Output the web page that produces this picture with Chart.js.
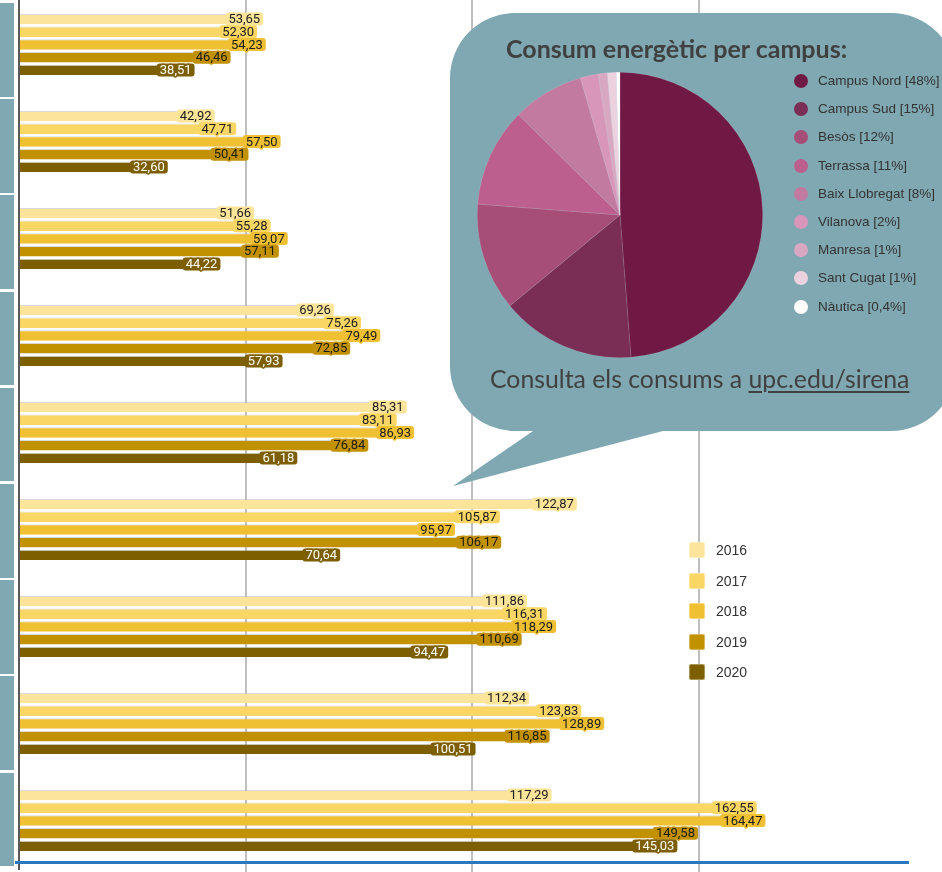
<!DOCTYPE html>
<html>
<head>
<meta charset="utf-8">
<script src="https://cdn.jsdelivr.net/npm/chart.js@4.4.1/dist/chart.umd.min.js"></script>
<style>
html, body { margin: 0; padding: 0; width: 942px; height: 872px; overflow: hidden; background: #fff; }
#page { position: relative; width: 942px; height: 872px; }
#barBox { position: absolute; left: 0; top: -4px; width: 942px; height: 903px; }
.cell { position: absolute; left: 0; width: 14px; background: #7fa8b2; }
#baseLine { position: absolute; left: 15px; top: 861px; width: 894px; height: 2.5px; background: #2a78c0; }
#legend { position: absolute; left: 689px; top: 542px; font: 14px "Liberation Sans", Arial, sans-serif; color: #333; }
#legend div { height: 30.5px; display: flex; align-items: flex-start; }
#legend span.sw { width: 16px; height: 16px; border-radius: 2px; margin-right: 11px; box-sizing: border-box; border: 1px solid rgba(255,255,255,0.35); }
#legend span.tx { line-height: 16px; }
#bubble { position: absolute; left: 0; top: 0; }
#title { position: absolute; left: 506px; top: 33px; font: bold 25px Lato, sans-serif; color: #404040; white-space: nowrap; }
#pieBox { position: absolute; left: 477px; top: 72px; width: 286px; height: 286px; }
#pieLegend { position: absolute; left: 794px; top: 72px; font: 13.5px "Liberation Sans", Arial, sans-serif; color: #333; }
#pieLegend div { height: 28.2px; display: flex; align-items: flex-start; white-space: nowrap; }
#pieLegend span.dot { width: 14px; height: 14px; border-radius: 50%; margin-right: 10px; margin-top: 2px; }
#pieLegend span.tx { line-height: 18px; }
#footer { position: absolute; left: 490px; top: 364px; font: 24.8px Lato, sans-serif; color: #404040; white-space: nowrap; }
#footer u { text-decoration-thickness: 2px; text-underline-offset: 3px; }
</style>
</head>
<body>
<div id="page">
  <div id="barBox"><canvas id="barChart"></canvas></div>
  <div id="baseLine"></div>
  <div id="legend"></div>
  <svg id="bubble" width="942" height="872">
    <path d="M 515 13 H 891 A 65 65 0 0 1 956 78 V 366 A 65 65 0 0 1 891 431 H 663 L 453 486 L 533 431 H 515 A 65 65 0 0 1 450 366 V 78 A 65 65 0 0 1 515 13 Z" fill="#7fa8b2"/>
  </svg>
  <div id="title">Consum energètic per campus:</div>
  <div id="pieBox"><canvas id="pieChart"></canvas></div>
  <div id="pieLegend"></div>
  <div id="footer">Consulta els consums a <u>upc.edu/sirena</u></div>
</div>
<script>
// groups (their names are cut off in the picture)
var categories = ['1', '2', '3', '4', '5', '6', '7', '8', '9'];
var years = ['2016', '2017', '2018', '2019', '2020'];

var v2016 = [53.65, 42.92, 51.66, 69.26, 85.31, 122.87, 111.86, 112.34, 117.29];
var v2017 = [52.30, 47.71, 55.28, 75.26, 83.11, 105.87, 116.31, 123.83, 162.55];
var v2018 = [54.23, 57.50, 59.07, 79.49, 86.93, 95.97, 118.29, 128.89, 164.47];
var v2019 = [46.46, 50.41, 57.11, 72.85, 76.84, 106.17, 110.69, 116.85, 149.58];
var v2020 = [38.51, 32.60, 44.22, 57.93, 61.18, 70.64, 94.47, 100.51, 145.03];

var yearColors = ['#fce59a', '#fad764', '#f0c033', '#c29100', '#7d5f00'];
var labelText = ['#1a1a1a', '#1a1a1a', '#1a1a1a', '#1a1a1a', '#ffffff'];

var campuses = ['Campus Nord', 'Campus Sud', 'Besòs', 'Terrassa', 'Baix Llobregat', 'Vilanova', 'Manresa', 'Sant Cugat', 'Nàutica'];
var shares = [48, 15, 12, 11, 8, 2, 1, 1, 0.4];
var shareText = ['48%', '15%', '12%', '11%', '8%', '2%', '1%', '1%', '0,4%'];
var campusColors = ['#711945', '#7a2d55', '#a64d78', '#bc5f8e', '#c27aa0', '#d896bb', '#d8a8c3', '#ebd2de', '#ffffff'];

var allValues = [v2016, v2017, v2018, v2019, v2020];

function fmt(v) {
    return v.toFixed(2).replace('.', ',');
}

// label cells on the left
var page = document.getElementById('page');
categories.forEach(function (c, i) {
    var d = document.createElement('div');
    d.className = 'cell';
    d.style.top = (3 + i * 96.2) + 'px';
    d.style.height = '93.7px';
    page.insertBefore(d, page.firstChild);
});

// value labels at the end of each bar
var valueLabels = {
    id: 'valueLabels',
    afterDatasetsDraw: function (chart) {
        var ctx = chart.ctx;
        ctx.save();
        ctx.font = '13px Roboto';
        ctx.textBaseline = 'middle';
        ctx.textAlign = 'right';
        ctx.lineJoin = 'round';
        chart.data.datasets.forEach(function (ds, di) {
            var meta = chart.getDatasetMeta(di);
            meta.data.forEach(function (bar, i) {
                var txt = fmt(ds.data[i]);
                var w = ctx.measureText(txt).width;
                var right = bar.x - 2;
                ctx.fillStyle = ds.backgroundColor;
                ctx.beginPath();
                ctx.roundRect(right - w - 3, bar.y - 6.5, w + 6, 13, 3);
                ctx.fill();
                ctx.lineWidth = 3;
                ctx.strokeStyle = ds.backgroundColor;
                ctx.strokeText(txt, right, bar.y + 1);
                ctx.fillStyle = labelText[di];
                ctx.fillText(txt, right, bar.y + 1);
            });
        });
        ctx.restore();
    }
};

var barCtx = document.getElementById('barChart').getContext('2d');
var barChart = new Chart(barCtx, {
    type: 'bar',
    data: {
        labels: categories,
        datasets: years.map(function (y, i) {
            return {
                label: y,
                data: allValues[i],
                backgroundColor: yearColors[i],
                borderColor: 'rgba(170,170,170,0.45)',
                borderWidth: { top: 1, bottom: 0, left: 0, right: 0 },
                categoryPercentage: 0.655,
                barPercentage: 0.82
            };
        })
    },
    options: {
        indexAxis: 'y',
        responsive: true,
        maintainAspectRatio: false,
        animation: false,
        layout: { padding: { left: 0, right: 16.5, top: 0, bottom: 0 } },
        plugins: { legend: { display: false }, tooltip: { enabled: false } },
        scales: {
            x: {
                min: 0,
                max: 200,
                ticks: { stepSize: 50 },
                grid: {
                    color: function (c) {
                        var v = c.tick ? c.tick.value : 0;
                        return (v > 0 && v < 200) ? '#bfbfbf' : 'rgba(0,0,0,0)';
                    },
                    lineWidth: 2,
                    tickLength: 8
                },
                border: { display: false },
                afterFit: function (s) { s.height = 30; }
            },
            y: {
                ticks: { display: false },
                grid: { display: false },
                border: { color: '#595959', width: 2 },
                afterFit: function (s) { s.width = 19; }
            }
        }
    },
    plugins: [valueLabels]
});

// legend for the years
var legend = document.getElementById('legend');
years.forEach(function (y, i) {
    var row = document.createElement('div');
    row.innerHTML = '<span class="sw" style="background:' + yearColors[i] + '"></span><span class="tx">' + y + '</span>';
    legend.appendChild(row);
});

// pie inside the bubble
var pieCtx = document.getElementById('pieChart').getContext('2d');
var pieChart = new Chart(pieCtx, {
    type: 'pie',
    data: {
        labels: campuses,
        datasets: [{
            data: shares,
            backgroundColor: campusColors,
            borderColor: 'rgba(255,255,255,0.2)',
            borderWidth: 0.6
        }]
    },
    options: {
        responsive: true,
        maintainAspectRatio: false,
        animation: false,
        layout: { padding: 0 },
        plugins: { legend: { display: false }, tooltip: { enabled: false } }
    }
});

var pieLegend = document.getElementById('pieLegend');
campuses.forEach(function (c, i) {
    var row = document.createElement('div');
    row.innerHTML = '<span class="dot" style="background:' + campusColors[i] + '"></span><span class="tx">' + c + ' [' + shareText[i] + ']</span>';
    pieLegend.appendChild(row);
});
</script>
</body>
</html>
